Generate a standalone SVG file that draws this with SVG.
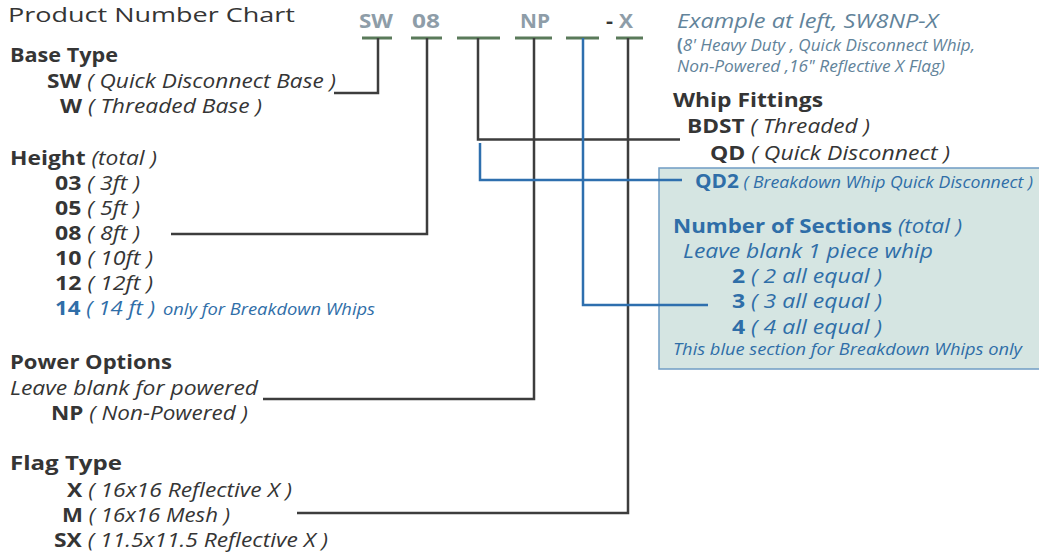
<svg xmlns="http://www.w3.org/2000/svg" width="1039" height="552" viewBox="0 0 1039 552">
<style>
text{font-family:"Open Sans","Noto Sans","Liberation Sans",sans-serif;font-size:20px;fill:#353535}
.b{font-weight:bold}
.i{font-style:italic}
.blue{fill:#2f6ea8}
.code{font-weight:bold;fill:#8e9da8}
.ex{font-style:italic;fill:#62839a}
.bar{stroke:#5a7a5a;stroke-width:3;fill:none}
.ln{stroke:#3d3d3d;stroke-width:2.5;fill:none}
.lb{stroke:#2e6fae;stroke-width:2.5;fill:none}
</style>
<rect width="1039" height="552" fill="#ffffff"/>

<g id="title">
<text x="8" y="22" textLength="287" lengthAdjust="spacingAndGlyphs" style="font-size:20px">Product Number Chart</text>
</g>

<g id="breakdown-box-bg">
<rect x="659" y="168" width="381" height="201" fill="#d5e5e2" stroke="#6f9cc4" stroke-width="1.5"/>
</g>

<g id="code">
<text class="code" x="359" y="28" textLength="34" lengthAdjust="spacingAndGlyphs">SW</text>
<text class="code" x="412" y="28" textLength="28" lengthAdjust="spacingAndGlyphs">08</text>
<text class="code" x="520" y="28" textLength="30" lengthAdjust="spacingAndGlyphs">NP</text>
<text class="b" x="606" y="28" textLength="7" lengthAdjust="spacingAndGlyphs">-</text>
<text class="code" x="619" y="28" textLength="14" lengthAdjust="spacingAndGlyphs">X</text>
<path class="bar" d="M362 38H392M411 38H442M457 38H500M515 38H552M566 38H599M616 38H643"/>
</g>

<g id="connectors">
<path class="ln" d="M378 38V93H334"/>
<path class="ln" d="M427 38V234H171"/>
<path class="ln" d="M478 38V139.5H680"/>
<path class="ln" d="M534 38V399H263"/>
<path class="ln" d="M628 38V513H297"/>
<path class="lb" d="M480 143V180H682"/>
<path class="lb" d="M583 38V305H708"/>
</g>

<g id="example">
<text class="ex" x="677" y="28" textLength="261" lengthAdjust="spacingAndGlyphs">Example at left,  SW8NP-X</text>
<text class="ex" x="677" y="51" textLength="298" lengthAdjust="spacingAndGlyphs" style="font-size:17px"><tspan class="b" style="font-style:normal">(</tspan>8' Heavy Duty , Quick Disconnect Whip,</text>
<text class="ex" x="677" y="72" textLength="268" lengthAdjust="spacingAndGlyphs" style="font-size:17px">Non-Powered ,16" Reflective X Flag)</text>
</g>

<g id="base-type">
<text class="b" x="10" y="62" textLength="108" lengthAdjust="spacingAndGlyphs">Base Type</text>
<text x="47" y="88" textLength="289" lengthAdjust="spacingAndGlyphs"><tspan class="b">SW</tspan><tspan class="i"> ( Quick Disconnect Base )</tspan></text>
<text x="60" y="113" textLength="202" lengthAdjust="spacingAndGlyphs"><tspan class="b">W</tspan><tspan class="i"> ( Threaded Base )</tspan></text>
</g>

<g id="height">
<text x="10" y="165" textLength="147" lengthAdjust="spacingAndGlyphs"><tspan class="b">Height</tspan><tspan class="i"> (total )</tspan></text>
<text x="55" y="190" textLength="85" lengthAdjust="spacingAndGlyphs"><tspan class="b">03</tspan><tspan class="i"> ( 3ft )</tspan></text>
<text x="55" y="215" textLength="85" lengthAdjust="spacingAndGlyphs"><tspan class="b">05</tspan><tspan class="i"> ( 5ft )</tspan></text>
<text x="55" y="240" textLength="85" lengthAdjust="spacingAndGlyphs"><tspan class="b">08</tspan><tspan class="i"> ( 8ft )</tspan></text>
<text x="55" y="265" textLength="98" lengthAdjust="spacingAndGlyphs"><tspan class="b">10</tspan><tspan class="i"> ( 10ft )</tspan></text>
<text x="55" y="290" textLength="98" lengthAdjust="spacingAndGlyphs"><tspan class="b">12</tspan><tspan class="i"> ( 12ft )</tspan></text>
<text class="blue" x="55" y="315" textLength="100" lengthAdjust="spacingAndGlyphs"><tspan class="b blue">14</tspan><tspan class="i blue"> ( 14 ft )</tspan></text>
<text class="i blue" x="163" y="315" textLength="212" lengthAdjust="spacingAndGlyphs" style="font-size:16px">only for Breakdown Whips</text>
</g>

<g id="whip-fittings">
<text class="b" x="673" y="107" textLength="150" lengthAdjust="spacingAndGlyphs">Whip  Fittings</text>
<text x="687" y="133" textLength="183" lengthAdjust="spacingAndGlyphs"><tspan class="b">BDST</tspan><tspan class="i"> ( Threaded )</tspan></text>
<text x="710" y="160" textLength="240" lengthAdjust="spacingAndGlyphs"><tspan class="b">QD</tspan><tspan class="i"> ( Quick Disconnect )</tspan></text>
<text class="blue" x="695" y="188" textLength="338" lengthAdjust="spacingAndGlyphs"><tspan class="b blue">QD2</tspan><tspan class="i blue" style="font-size:17px"> ( Breakdown Whip Quick Disconnect )</tspan></text>
</g>

<g id="sections">
<text class="blue" x="673" y="233" textLength="289" lengthAdjust="spacingAndGlyphs"><tspan class="b blue">Number of Sections</tspan><tspan class="i blue"> (total )</tspan></text>
<text class="i blue" x="683" y="258" textLength="250" lengthAdjust="spacingAndGlyphs">Leave blank 1 piece whip</text>
<text class="blue" x="732" y="283" textLength="150" lengthAdjust="spacingAndGlyphs"><tspan class="b blue">2</tspan><tspan class="i blue"> ( 2  all equal )</tspan></text>
<text class="blue" x="732" y="308" textLength="150" lengthAdjust="spacingAndGlyphs"><tspan class="b blue">3</tspan><tspan class="i blue"> ( 3  all equal )</tspan></text>
<text class="blue" x="732" y="334" textLength="150" lengthAdjust="spacingAndGlyphs"><tspan class="b blue">4</tspan><tspan class="i blue"> ( 4  all equal )</tspan></text>
<text class="i blue" x="673" y="355" textLength="349" lengthAdjust="spacingAndGlyphs" style="font-size:16px">This blue section for Breakdown Whips only</text>
</g>

<g id="power">
<text class="b" x="10" y="369" textLength="162" lengthAdjust="spacingAndGlyphs">Power Options</text>
<text class="i" x="10" y="395" textLength="248" lengthAdjust="spacingAndGlyphs">Leave blank for powered</text>
<text x="51" y="420" textLength="197" lengthAdjust="spacingAndGlyphs"><tspan class="b">NP</tspan><tspan class="i"> ( Non-Powered )</tspan></text>
</g>

<g id="flag">
<text class="b" x="10" y="470" textLength="112" lengthAdjust="spacingAndGlyphs">Flag Type</text>
<text x="67" y="497" textLength="225" lengthAdjust="spacingAndGlyphs"><tspan class="b">X</tspan><tspan class="i"> ( 16x16 Reflective X )</tspan></text>
<text x="62" y="522" textLength="168" lengthAdjust="spacingAndGlyphs"><tspan class="b">M</tspan><tspan class="i"> ( 16x16 Mesh )</tspan></text>
<text x="54" y="547" textLength="274" lengthAdjust="spacingAndGlyphs"><tspan class="b">SX</tspan><tspan class="i"> ( 11.5x11.5 Reflective X )</tspan></text>
</g>
</svg>
